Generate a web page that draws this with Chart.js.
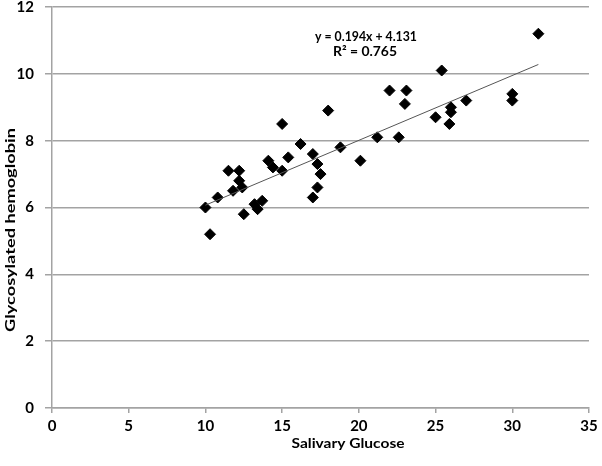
<!DOCTYPE html>
<html>
<head>
<meta charset="utf-8">
<script src="https://cdn.jsdelivr.net/npm/chart.js@4.4.0/dist/chart.umd.min.js"></script>
<style>
	html, body { margin: 0; padding: 0; background: #fff; }
	#wrap { width: 602px; height: 466px; }
</style>
</head>
<body>
<div id="wrap"><canvas id="chart" width="602" height="466"></canvas></div>
<script>
// salivary glucose (x) vs glycosylated hemoglobin (y)
const glucose = [
	10.0, 10.3, 10.8, 11.5, 11.8, 12.2, 12.2, 12.4, 12.5, 13.2,
	13.4, 13.7, 14.1, 14.4, 15.0, 15.0, 15.4, 16.2, 17.0, 17.0,
	17.3, 17.3, 17.5, 18.0, 18.8, 20.1, 21.2, 22.0, 22.6, 23.0,
	23.1, 25.0, 25.4, 25.9, 26.0, 26.0, 27.0, 30.0, 30.0, 31.7,
];
const hemoglobin = [
	6.0, 5.2, 6.3, 7.1, 6.5, 7.1, 6.8, 6.6, 5.8, 6.1,
	5.95, 6.2, 7.4, 7.2, 7.1, 8.5, 7.5, 7.9, 7.6, 6.3,
	7.3, 6.6, 7.0, 8.9, 7.8, 7.4, 8.1, 9.5, 8.1, 9.1,
	9.5, 8.7, 10.1, 8.5, 8.85, 9.0, 9.2, 9.4, 9.2, 11.2,
];
// linear trendline ends, as drawn in the picture
const trendX = [10.0, 31.7];
const trendY = [6.07, 10.28];

const xTitle = 'Salivary Glucose';
const yTitle = 'Glycosylated hemoglobin';
const equation = ['y = 0.194x + 4.131', 'R² = 0.765'];

const gridGray = '#a3a3a3';
const fontFamily = 'Lato, "Open Sans", sans-serif';

const points = glucose.map((x, i) => ({ x: x, y: hemoglobin[i] }));
const trend = trendX.map((x, i) => ({ x: x, y: trendY[i] }));

// draws text squeezed/stretched to a given width
function fitText(ctx, text, x, y, width, size) {
	ctx.font = `bold ${size}px ${fontFamily}`;
	const w = ctx.measureText(text).width;
	ctx.save();
	ctx.translate(x, y);
	ctx.scale(width / w, 1);
	ctx.fillText(text, 0, 0);
	ctx.restore();
}

const labelsPlugin = {
	id: 'labels',
	afterDraw(chart) {
		const ctx = chart.ctx;
		ctx.save();
		ctx.fillStyle = '#000';
		ctx.textAlign = 'center';
		ctx.textBaseline = 'middle';

		fitText(ctx, equation[0], 366, 36, 102, 14);
		fitText(ctx, equation[1], 365, 51, 64, 14);
		fitText(ctx, xTitle, 348, 443, 113, 14);

		ctx.translate(10, 230);
		ctx.rotate(-Math.PI / 2);
		fitText(ctx, yTitle, 0, 0, 204, 14);
		ctx.restore();
	},
};

const tickFont = { family: fontFamily, size: 15, weight: 'bold', lineHeight: 1 };

// keep the plot box where the picture has it
function noPad(scale) {
	scale.paddingTop = 0;
	scale.paddingBottom = 0;
	scale.paddingLeft = 0;
	scale.paddingRight = 0;
}

new Chart(document.getElementById('chart'), {
	type: 'scatter',
	data: {
		datasets: [
			{
				type: 'line',
				data: trend,
				borderColor: '#555',
				borderWidth: 1,
				pointRadius: 0,
				fill: false,
				order: 0,
			},
			{
				data: points,
				pointStyle: 'rectRot',
				pointRadius: 5.5,
				pointBackgroundColor: '#000',
				pointBorderColor: '#000',
				pointBorderWidth: 1,
				order: 1,
			},
		],
	},
	options: {
		responsive: false,
		animation: false,
		events: [],
		devicePixelRatio: 1,
		layout: {
			autoPadding: false,
			padding: { top: 7, right: 13, bottom: 0, left: 0 },
		},
		plugins: {
			legend: { display: false },
			tooltip: { enabled: false },
		},
		scales: {
			x: {
				type: 'linear',
				min: 0,
				max: 35,
				ticks: {
					stepSize: 5,
					color: '#000',
					padding: 6,
					font: tickFont,
				},
				grid: {
					drawOnChartArea: false,
					drawTicks: true,
					tickLength: 5,
					color: gridGray,
					lineWidth: 1.5,
				},
				border: { color: gridGray, width: 1.5 },
				afterFit: scale => { scale.height = 58; noPad(scale); },
			},
			y: {
				min: 0,
				max: 12,
				ticks: {
					stepSize: 2,
					color: '#000',
					padding: 11,
					font: tickFont,
				},
				grid: {
					color: gridGray,
					lineWidth: 1.5,
					tickLength: 7,
				},
				border: { color: gridGray, width: 1.5 },
				afterFit: scale => { scale.width = 52; noPad(scale); },
			},
		},
	},
	plugins: [labelsPlugin],
});
</script>
</body>
</html>
